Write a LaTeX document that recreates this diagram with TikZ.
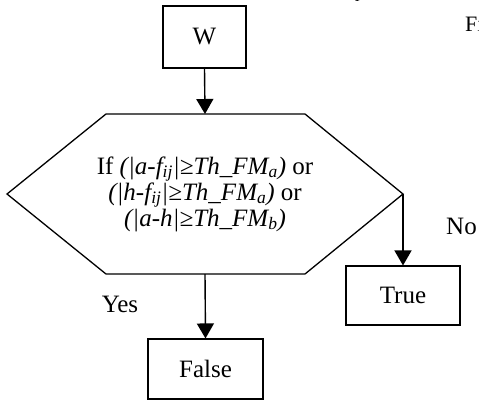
\documentclass[tikz,border=0pt]{standalone}
\usepackage{fontspec}
\setmainfont{Liberation Serif}
\usetikzlibrary{arrows.meta}
\begin{document}
\begin{tikzpicture}[x=1pt,y=-1pt,
  box/.style={draw,line width=1.1pt,inner sep=0pt},
  lbl/.style={font=\fontsize{25}{26}\selectfont},
  flow/.style={line width=1.4pt,-{Triangle[width=17pt,length=15pt]}},
  line/.style={line width=1.3pt}]
\useasboundingbox (0,0) rectangle (479,402);
% boxes
\node[box,minimum width=83pt,minimum height=62pt,lbl] (w) at (204.5,37) {W};
\node[box,minimum width=114pt,minimum height=59pt,lbl] (true) at (403,295.5) {True};
\node[box,minimum width=115pt,minimum height=60pt,lbl] (false) at (205.5,369) {False};
% decision hexagon
\coordinate (ht) at (205,114);
\coordinate (hr) at (403,194);
\coordinate (hb) at (205,274);
\draw[line] (106,114) -- (305,114) -- (hr) -- (305,274) -- (106,274) -- (7,194) -- cycle;
\node[align=center,font=\fontsize{25}{26}\selectfont] (cond) at (205,194)
  {If \textit{(|a-f\textsubscript{ij}|≥Th\_FM\textsubscript{a})} or\\
   \textit{(|h-f\textsubscript{ij}|≥Th\_FM\textsubscript{a})} or\\
   \textit{(|a-h|≥Th\_FM\textsubscript{b})}};
% connectors
\draw[flow] (w.south) -- (ht);
\draw[flow] (hr) -- (true.north);
\draw[flow] (hb) -- (false.north);
% branch labels
\node[lbl,anchor=west,inner sep=0pt] (no) at (446,226) {No};
\node[lbl] (yes) at (120,304) {Yes};
% text running in from beside the chart
\node[font=\fontsize{22}{24}\selectfont,anchor=west,inner sep=0pt] (fi) at (465,24) {Fi};
\node[lbl,anchor=base west] (el) at (336,-2) {\textit{E}\textsubscript{l}};
\end{tikzpicture}
\end{document}
